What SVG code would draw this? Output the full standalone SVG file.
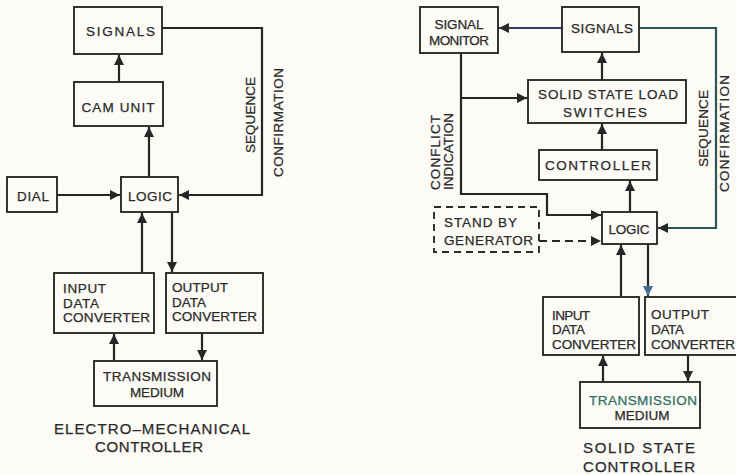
<svg xmlns="http://www.w3.org/2000/svg" width="736" height="475" viewBox="0 0 736 475">
<style>
.box{fill:none;stroke:#2a2a2a;stroke-width:1.9}
.dash{fill:none;stroke:#2a2a2a;stroke-width:1.9;stroke-dasharray:7 5}
.ln{fill:none;stroke:#262626;stroke-width:2.2}
.blue{stroke:#2b3f6b}
.teal{stroke:#2c5555}
.t{font-family:"Liberation Sans",Arial,sans-serif;font-size:13.5px;fill:#2a2a2a;stroke:#2a2a2a;stroke-width:0.25}
.c{text-anchor:middle}
.title{font-size:15px}
</style>
<defs>
<marker id="ah" markerUnits="userSpaceOnUse" markerWidth="11" markerHeight="11" refX="10" refY="5" orient="auto">
<path d="M0,0 L10,5 L0,10 z" fill="#262626"/>
</marker>
<marker id="ahb" markerUnits="userSpaceOnUse" markerWidth="11" markerHeight="11" refX="10" refY="5" orient="auto">
<path d="M0,0 L10,5 L0,10 z" fill="#3d6d99"/>
</marker>
</defs>
<rect width="736" height="475" fill="#fcfbf6"/>

<g id="connectors">
<path class="ln" d="M119,82 V55" marker-end="url(#ah)"/>
<path class="ln" d="M149,177 V127" marker-end="url(#ah)"/>
<path class="ln" d="M57,195 H120" marker-end="url(#ah)"/>
<path class="ln" d="M162,28 H262 V195 H179" marker-end="url(#ah)"/>
<path class="ln" d="M142,273 V213" marker-end="url(#ah)"/>
<path class="ln" d="M172,212 V272" marker-end="url(#ah)"/>
<path class="ln" d="M114,361 V334" marker-end="url(#ah)"/>
<path class="ln" d="M202,333 V360" marker-end="url(#ah)"/>
<path class="ln blue" d="M562,28 H499" marker-end="url(#ah)"/>
<path class="ln teal" d="M639,28 H716 V228 H658" marker-end="url(#ah)"/>
<path class="ln" d="M602,80 V53" marker-end="url(#ah)"/>
<path class="ln" d="M602,150 V124" marker-end="url(#ah)"/>
<path class="ln" d="M630,212 V181" marker-end="url(#ah)"/>
<path class="ln" d="M461,53 V194 H547 V215 H601" marker-end="url(#ah)"/>
<path class="ln" d="M461,98 H527" marker-end="url(#ah)"/>
<path class="ln" d="M539,241 H601" stroke-dasharray="8 5" marker-end="url(#ah)"/>
<path class="ln" d="M621,297 V245" marker-end="url(#ah)"/>
<path class="ln" d="M648,244 V296" marker-end="url(#ahb)"/>
<path class="ln" d="M603,382 V356" marker-end="url(#ah)"/>
<path class="ln" d="M688,355 V381" marker-end="url(#ah)"/>
</g>

<g id="labels">
<text class="t c" transform="translate(255,115) rotate(-90)" textLength="76">SEQUENCE</text>
<text class="t c" transform="translate(283,122.5) rotate(-90)" textLength="109">CONFIRMATION</text>
<text class="t c" transform="translate(440,152.5) rotate(-90)" textLength="75">CONFLICT</text>
<text class="t c" transform="translate(453,151.5) rotate(-90)" textLength="77">INDICATION</text>
<text class="t c" transform="translate(708,128.5) rotate(-90)" textLength="77">SEQUENCE</text>
<text class="t c" transform="translate(729,133.5) rotate(-90)" textLength="117">CONFIRMATION</text>
<text class="t c title" x="152" y="434" textLength="196">ELECTRO–MECHANICAL</text>
<text class="t c title" x="149" y="452" textLength="108">CONTROLLER</text>
<text class="t c title" x="639" y="453" textLength="112">SOLID STATE</text>
<text class="t c title" x="639" y="472" textLength="112">CONTROLLER</text>
</g>

<g id="l-signals"><rect class="box" x="74" y="7" width="88" height="47"/><text class="t c" x="120.5" y="36" textLength="69">SIGNALS</text></g>
<g id="l-cam"><rect class="box" x="74" y="82" width="89" height="44"/><text class="t c" x="118" y="112" textLength="73">CAM UNIT</text></g>
<g id="l-dial"><rect class="box" x="7" y="177" width="50" height="35"/><text class="t c" x="33" y="201" textLength="32">DIAL</text></g>
<g id="l-logic"><rect class="box" x="121" y="177" width="57" height="35"/><text class="t c" x="150" y="201" textLength="44">LOGIC</text></g>
<g id="l-input"><rect class="box" x="54" y="273" width="100" height="60"/>
<text class="t" x="63" y="293" textLength="43">INPUT</text><text class="t" x="63" y="308" textLength="36">DATA</text><text class="t" x="63" y="322" textLength="87">CONVERTER</text></g>
<g id="l-output"><rect class="box" x="166" y="273" width="97" height="60"/>
<text class="t" x="172" y="292" textLength="56">OUTPUT</text><text class="t" x="172" y="307" textLength="34">DATA</text><text class="t" x="172" y="321" textLength="85">CONVERTER</text></g>
<g id="l-trans"><rect class="box" x="94" y="361" width="123" height="45"/>
<text class="t c" x="157" y="381" textLength="108">TRANSMISSION</text><text class="t c" x="157" y="397" textLength="54">MEDIUM</text></g>

<g id="r-monitor"><rect class="box" x="420" y="7" width="78" height="46"/>
<text class="t c" x="459" y="29" textLength="49">SIGNAL</text><text class="t c" x="459" y="45" textLength="60">MONITOR</text></g>
<g id="r-signals"><rect class="box" x="562" y="7" width="77" height="45"/><text class="t c" x="602" y="33" textLength="62">SIGNALS</text></g>
<g id="r-ssls"><rect class="box" x="528" y="80" width="158" height="43"/>
<text class="t c" x="608" y="99" textLength="140">SOLID STATE LOAD</text><text class="t c" x="605" y="117" textLength="84">SWITCHES</text></g>
<g id="r-controller"><rect class="box" x="539" y="150" width="118" height="30"/><text class="t c" x="598" y="170" textLength="106">CONTROLLER</text></g>
<g id="r-logic"><rect class="box" x="602" y="212" width="55" height="32"/><text class="t c" x="629" y="234" textLength="41">LOGIC</text></g>
<g id="r-standby"><rect class="dash" x="434" y="207" width="105" height="45"/>
<text class="t" x="444" y="227" textLength="73">STAND BY</text><text class="t" x="444" y="245" textLength="89">GENERATOR</text></g>
<g id="r-input"><rect class="box" x="543" y="297" width="96" height="58"/>
<text class="t" x="552" y="320" textLength="38">INPUT</text><text class="t" x="552" y="334" textLength="33">DATA</text><text class="t" x="552" y="349" textLength="84">CONVERTER</text></g>
<g id="r-output"><rect class="box" x="645" y="297" width="95" height="58"/>
<text class="t" x="651" y="319" textLength="58">OUTPUT</text><text class="t" x="651" y="334" textLength="33">DATA</text><text class="t" x="651" y="349" textLength="84">CONVERTER</text></g>
<g id="r-trans"><rect class="box" x="580" y="382" width="120" height="46"/>
<text class="t c" x="643" y="405" textLength="108" style="fill:#2e6e62;stroke:#2e6e62">TRANSMISSION</text><text class="t c" x="642" y="420" textLength="55">MEDIUM</text></g>
</svg>
